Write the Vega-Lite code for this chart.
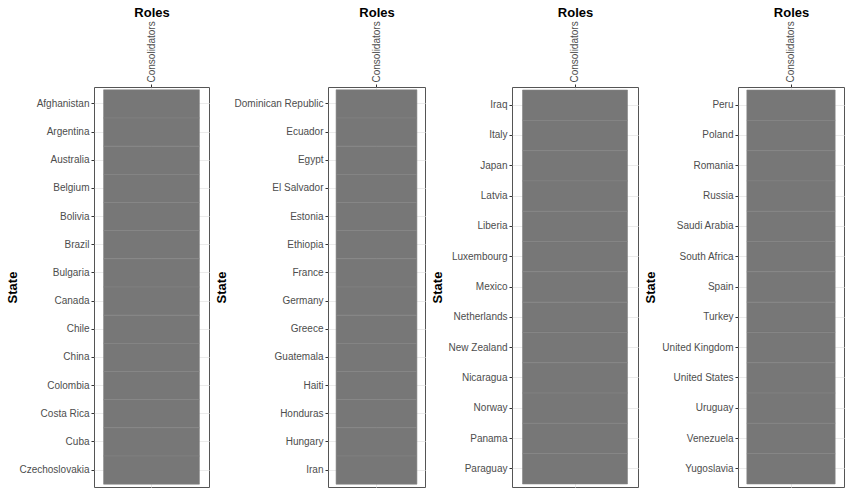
{
  "$schema": "https://vega.github.io/schema/vega-lite/v6.json",
  "padding": 5,
  "background": "white",
  "datasets": {
    "roles": [
      {"panel": 1, "State": "Afghanistan", "Roles": "Consolidators"},
      {"panel": 1, "State": "Argentina", "Roles": "Consolidators"},
      {"panel": 1, "State": "Australia", "Roles": "Consolidators"},
      {"panel": 1, "State": "Belgium", "Roles": "Consolidators"},
      {"panel": 1, "State": "Bolivia", "Roles": "Consolidators"},
      {"panel": 1, "State": "Brazil", "Roles": "Consolidators"},
      {"panel": 1, "State": "Bulgaria", "Roles": "Consolidators"},
      {"panel": 1, "State": "Canada", "Roles": "Consolidators"},
      {"panel": 1, "State": "Chile", "Roles": "Consolidators"},
      {"panel": 1, "State": "China", "Roles": "Consolidators"},
      {"panel": 1, "State": "Colombia", "Roles": "Consolidators"},
      {"panel": 1, "State": "Costa Rica", "Roles": "Consolidators"},
      {"panel": 1, "State": "Cuba", "Roles": "Consolidators"},
      {"panel": 1, "State": "Czechoslovakia", "Roles": "Consolidators"},
      {"panel": 2, "State": "Dominican Republic", "Roles": "Consolidators"},
      {"panel": 2, "State": "Ecuador", "Roles": "Consolidators"},
      {"panel": 2, "State": "Egypt", "Roles": "Consolidators"},
      {"panel": 2, "State": "El Salvador", "Roles": "Consolidators"},
      {"panel": 2, "State": "Estonia", "Roles": "Consolidators"},
      {"panel": 2, "State": "Ethiopia", "Roles": "Consolidators"},
      {"panel": 2, "State": "France", "Roles": "Consolidators"},
      {"panel": 2, "State": "Germany", "Roles": "Consolidators"},
      {"panel": 2, "State": "Greece", "Roles": "Consolidators"},
      {"panel": 2, "State": "Guatemala", "Roles": "Consolidators"},
      {"panel": 2, "State": "Haiti", "Roles": "Consolidators"},
      {"panel": 2, "State": "Honduras", "Roles": "Consolidators"},
      {"panel": 2, "State": "Hungary", "Roles": "Consolidators"},
      {"panel": 2, "State": "Iran", "Roles": "Consolidators"},
      {"panel": 3, "State": "Iraq", "Roles": "Consolidators"},
      {"panel": 3, "State": "Italy", "Roles": "Consolidators"},
      {"panel": 3, "State": "Japan", "Roles": "Consolidators"},
      {"panel": 3, "State": "Latvia", "Roles": "Consolidators"},
      {"panel": 3, "State": "Liberia", "Roles": "Consolidators"},
      {"panel": 3, "State": "Luxembourg", "Roles": "Consolidators"},
      {"panel": 3, "State": "Mexico", "Roles": "Consolidators"},
      {"panel": 3, "State": "Netherlands", "Roles": "Consolidators"},
      {"panel": 3, "State": "New Zealand", "Roles": "Consolidators"},
      {"panel": 3, "State": "Nicaragua", "Roles": "Consolidators"},
      {"panel": 3, "State": "Norway", "Roles": "Consolidators"},
      {"panel": 3, "State": "Panama", "Roles": "Consolidators"},
      {"panel": 3, "State": "Paraguay", "Roles": "Consolidators"},
      {"panel": 4, "State": "Peru", "Roles": "Consolidators"},
      {"panel": 4, "State": "Poland", "Roles": "Consolidators"},
      {"panel": 4, "State": "Romania", "Roles": "Consolidators"},
      {"panel": 4, "State": "Russia", "Roles": "Consolidators"},
      {"panel": 4, "State": "Saudi Arabia", "Roles": "Consolidators"},
      {"panel": 4, "State": "South Africa", "Roles": "Consolidators"},
      {"panel": 4, "State": "Spain", "Roles": "Consolidators"},
      {"panel": 4, "State": "Turkey", "Roles": "Consolidators"},
      {"panel": 4, "State": "United Kingdom", "Roles": "Consolidators"},
      {"panel": 4, "State": "United States", "Roles": "Consolidators"},
      {"panel": 4, "State": "Uruguay", "Roles": "Consolidators"},
      {"panel": 4, "State": "Venezuela", "Roles": "Consolidators"},
      {"panel": 4, "State": "Yugoslavia", "Roles": "Consolidators"}
    ]
  },
  "spacing": 4,
  "hconcat": [
    {
      "width": 115, "height": 400,
      "data": {"name": "roles"},
      "transform": [{"filter": "datum.panel === 1"}],
      "mark": {"type": "rect", "fill": "#777777", "opacity": 1, "fillOpacity": 1, "stroke": "#858585", "strokeWidth": 0.6},
      "encoding": {
        "x": {"field": "Roles", "type": "nominal", "title": "Roles",
              "scale": {"paddingInner": 0, "paddingOuter": 0.1},
              "axis": {"orient": "top", "labelAngle": -90, "labelAlign": "left", "labelBaseline": "middle", "grid": true, "bandPosition": 0.5, "titlePadding": 2, "minExtent": 66, "maxExtent": 66, "zindex": 0}},
        "y": {"field": "State", "type": "nominal", "title": "State", "sort": "ascending",
              "scale": {"paddingInner": 0, "paddingOuter": 0.1},
              "axis": {"grid": true, "bandPosition": 0.5, "minExtent": 71, "maxExtent": 71, "zindex": 0}}
      }
    },
    {
      "width": 97, "height": 400,
      "data": {"name": "roles"},
      "transform": [{"filter": "datum.panel === 2"}],
      "mark": {"type": "rect", "fill": "#777777", "opacity": 1, "fillOpacity": 1, "stroke": "#858585", "strokeWidth": 0.6},
      "encoding": {
        "x": {"field": "Roles", "type": "nominal", "title": "Roles",
              "scale": {"paddingInner": 0, "paddingOuter": 0.1},
              "axis": {"orient": "top", "labelAngle": -90, "labelAlign": "left", "labelBaseline": "middle", "grid": true, "bandPosition": 0.5, "titlePadding": 2, "minExtent": 66, "maxExtent": 66, "zindex": 0}},
        "y": {"field": "State", "type": "nominal", "title": "State", "sort": "ascending",
              "scale": {"paddingInner": 0, "paddingOuter": 0.1},
              "axis": {"grid": true, "bandPosition": 0.5, "minExtent": 96, "maxExtent": 96, "zindex": 0}}
      }
    },
    {
      "width": 126, "height": 400,
      "data": {"name": "roles"},
      "transform": [{"filter": "datum.panel === 3"}],
      "mark": {"type": "rect", "fill": "#777777", "opacity": 1, "fillOpacity": 1, "stroke": "#858585", "strokeWidth": 0.6},
      "encoding": {
        "x": {"field": "Roles", "type": "nominal", "title": "Roles",
              "scale": {"paddingInner": 0, "paddingOuter": 0.1},
              "axis": {"orient": "top", "labelAngle": -90, "labelAlign": "left", "labelBaseline": "middle", "grid": true, "bandPosition": 0.5, "titlePadding": 2, "minExtent": 66, "maxExtent": 66, "zindex": 0}},
        "y": {"field": "State", "type": "nominal", "title": "State", "sort": "ascending",
              "scale": {"paddingInner": 0, "paddingOuter": 0.1},
              "axis": {"grid": true, "bandPosition": 0.5, "minExtent": 64, "maxExtent": 64, "zindex": 0}}
      }
    },
    {
      "width": 106, "height": 400,
      "data": {"name": "roles"},
      "transform": [{"filter": "datum.panel === 4"}],
      "mark": {"type": "rect", "fill": "#777777", "opacity": 1, "fillOpacity": 1, "stroke": "#858585", "strokeWidth": 0.6},
      "encoding": {
        "x": {"field": "Roles", "type": "nominal", "title": "Roles",
              "scale": {"paddingInner": 0, "paddingOuter": 0.1},
              "axis": {"orient": "top", "labelAngle": -90, "labelAlign": "left", "labelBaseline": "middle", "grid": true, "bandPosition": 0.5, "titlePadding": 2, "minExtent": 66, "maxExtent": 66, "zindex": 0}},
        "y": {"field": "State", "type": "nominal", "title": "State", "sort": "ascending",
              "scale": {"paddingInner": 0, "paddingOuter": 0.1},
              "axis": {"grid": true, "bandPosition": 0.5, "minExtent": 77, "maxExtent": 77, "zindex": 0}}
      }
    }
  ],
  "config": {
    "view": {"stroke": "#555555", "strokeWidth": 1},
    "axis": {
      "labelFont": "Liberation Sans", "labelFontSize": 10, "labelColor": "#4d4d4d",
      "titleFont": "Liberation Sans", "titleFontSize": 13, "titleFontWeight": "bold", "titleColor": "#000000",
      "tickColor": "#333333", "tickSize": 3, "labelPadding": 2, "domain": false,
      "gridColor": "#ebebeb", "gridWidth": 1, "titlePadding": 4
    }
  }
}
